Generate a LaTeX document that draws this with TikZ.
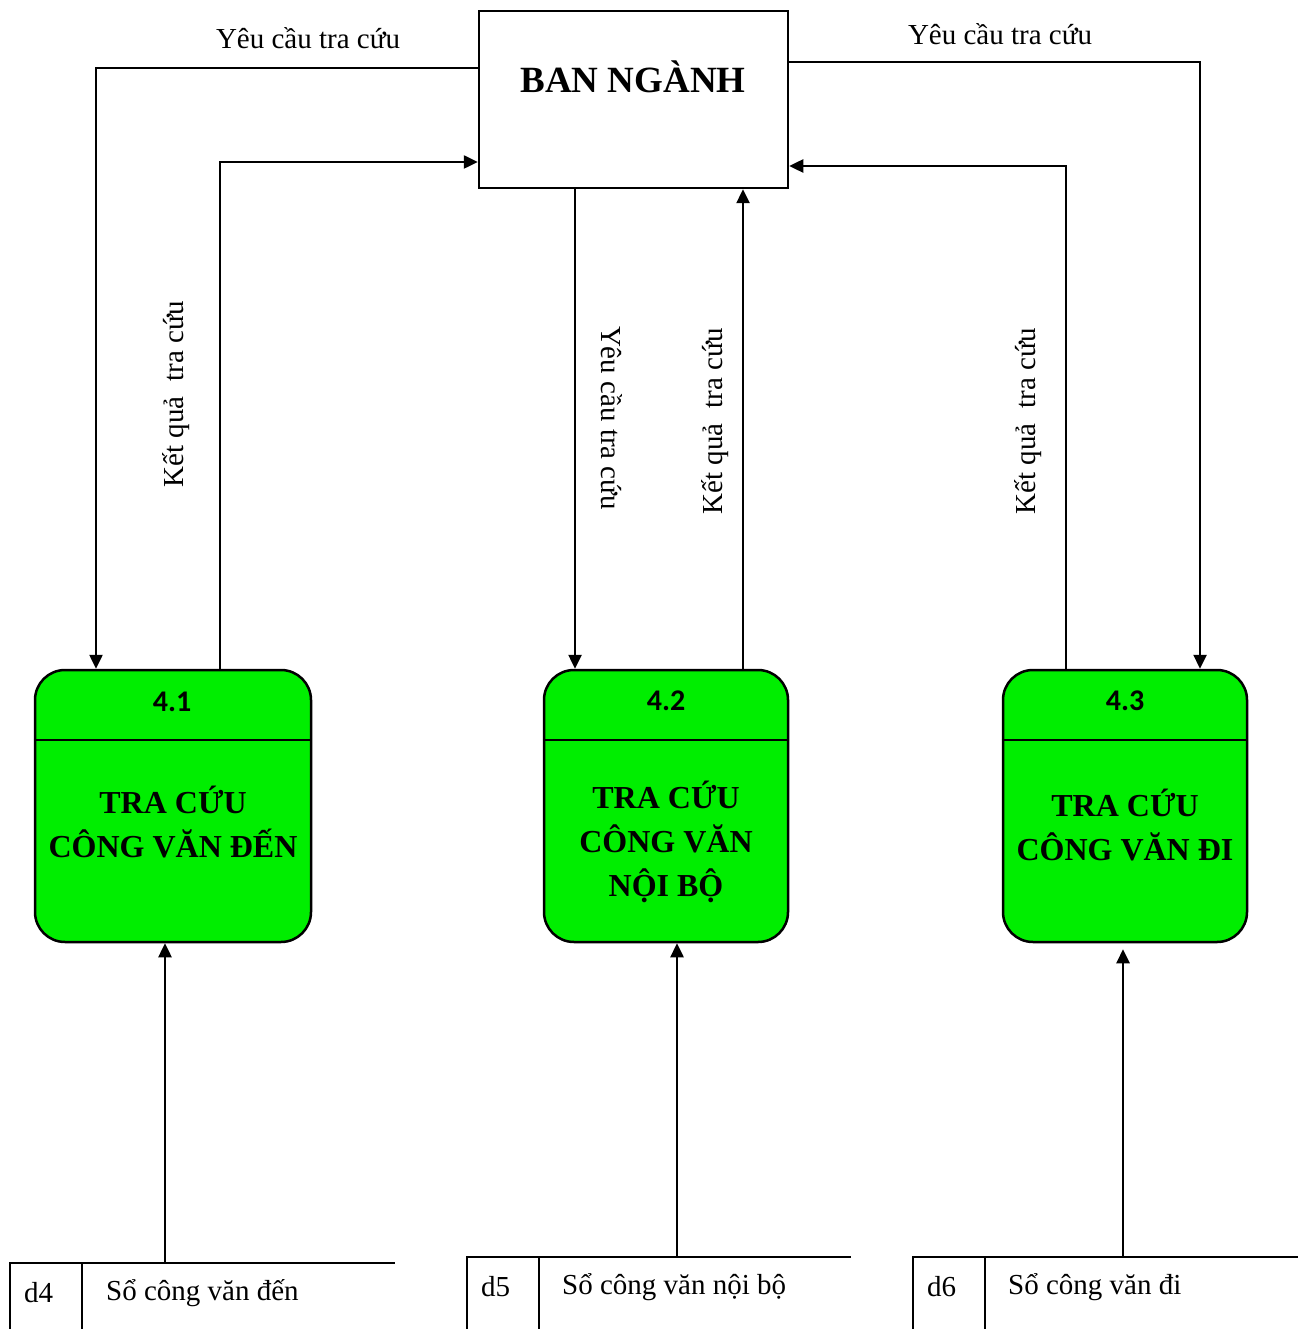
\documentclass[tikz,border=0pt]{standalone}
\usepackage{fontspec}
\setmainfont{Liberation Serif}
\newfontfamily\numfont{Carlito}
\usetikzlibrary{arrows.meta}
\definecolor{procgreen}{RGB}{0,238,0}
\tikzset{
  flow/.style={line width=2.5pt,-{Triangle[length=14pt,width=13pt]}},
  plain/.style={line width=2.5pt},
  proc/.style={draw,line width=2.5pt,fill=procgreen,rounded corners=30pt,minimum height=272pt,inner sep=0pt},
  procnum/.style={font=\numfont\bfseries\fontsize{30}{34}\selectfont},
  proctitle/.style={font=\bfseries\fontsize{32}{44}\selectfont,align=center},
  lbl/.style={font=\fontsize{29}{32}\selectfont,inner sep=0pt},
  storetxt/.style={font=\fontsize{29}{32}\selectfont,inner sep=0pt,anchor=west}
}
\begin{document}
\begin{tikzpicture}[x=1pt,y=-1pt]
\useasboundingbox (0,0) rectangle (1302,1329);
% external entity
\node[draw,line width=2.5pt,minimum width=309pt,minimum height=177pt,inner sep=0pt] (ban) at (633.5,99.5) {};
\node[font=\bfseries\fontsize{37}{40}\selectfont] (bantext) at (633,77) {BAN NGÀNH};
% processes
\node[proc,minimum width=276pt] (p1) at (173,806) {};
\node[proc,minimum width=244pt] (p2) at (666,806) {};
\node[proc,minimum width=244pt] (p3) at (1125,806) {};
\coordinate (div) at (0,740);
\foreach \p in {p1,p2,p3}{\draw[plain] (\p.west |- div) -- (\p.east |- div);}
\node[procnum] (n1) at (172,702) {4.1};
\node[procnum] (n2) at (666,701) {4.2};
\node[procnum] (n3) at (1125,701) {4.3};
\node[proctitle] (t1) at (173,822) {TRA CỨU\\CÔNG VĂN ĐẾN};
\node[proctitle] (t2) at (666,842) {TRA CỨU\\CÔNG VĂN\\NỘI BỘ};
\node[proctitle] (t3) at (1125,825) {TRA CỨU\\CÔNG VĂN ĐI};
% connector helper coordinates
\coordinate (c1) at (96,68);
\coordinate (c2) at (220,162);
\coordinate (c3) at (575,0);
\coordinate (c4) at (743,0);
\coordinate (c5) at (1200,62);
\coordinate (c6) at (1066,166);
% connectors between BAN NGÀNH and processes
\draw[flow] (ban.west |- c1) -| (p1.north -| c1);
\draw[flow] (p1.north -| c2) |- (ban.west |- c2);
\draw[flow] (ban.south -| c3) -- (p2.north -| c3);
\draw[flow] (p2.north -| c4) -- (ban.south -| c4);
\draw[flow] (ban.east |- c5) -| (p3.north -| c5);
\draw[flow] (p3.north -| c6) |- (ban.east |- c6);
% labels
\node[lbl] (l1) at (308,38) {Yêu cầu tra cứu};
\node[lbl] (l2) at (1000,34) {Yêu cầu tra cứu};
\node[lbl,rotate=90] (l3) at (176,394) {Kết quả\ \ tra cứu};
\node[lbl,rotate=-90] (l4) at (612,418) {Yêu cầu tra cứu};
\node[lbl,rotate=90] (l5) at (715,421) {Kết quả\ \ tra cứu};
\node[lbl,rotate=90] (l6) at (1028,421) {Kết quả\ \ tra cứu};
% data stores
\draw[plain] (10,1329) -- (10,1263) -- (395,1263);
\draw[plain] (82,1263) -- (82,1329);
\draw[plain] (467,1329) -- (467,1257) -- (851,1257);
\draw[plain] (539,1257) -- (539,1329);
\draw[plain] (913,1329) -- (913,1257) -- (1298,1257);
\draw[plain] (985,1257) -- (985,1329);
\node[storetxt] (d4) at (24,1293) {d4};
\node[storetxt] (s4) at (106,1293) {Sổ công văn đến};
\node[storetxt] (d5) at (481,1287) {d5};
\node[storetxt] (s5) at (562,1287) {Sổ công văn nội bộ};
\node[storetxt] (d6) at (927,1287) {d6};
\node[storetxt] (s6) at (1008,1287) {Sổ công văn đi};
\coordinate (st4) at (165,1263);
\coordinate (st5) at (677,1257);
\coordinate (st6) at (1123,1257);
\draw[flow] (st4) -- (p1.south -| st4);
\draw[flow] (st5) -- (p2.south -| st5);
\draw[flow] (st6) -- ([yshift=-6pt]p3.south -| st6);
\end{tikzpicture}
\end{document}
